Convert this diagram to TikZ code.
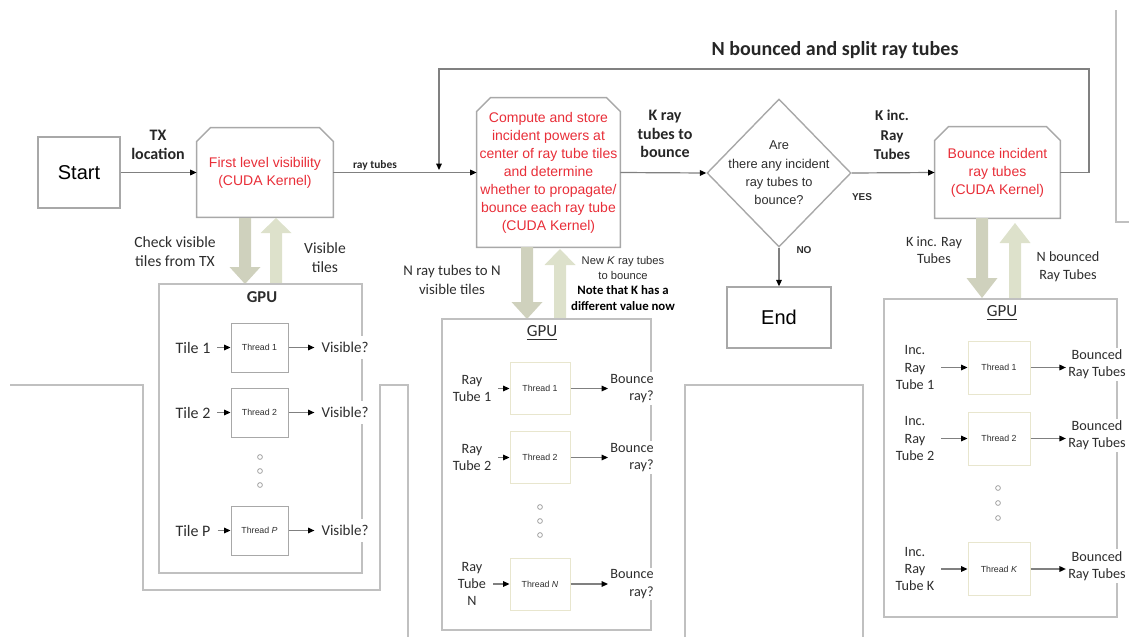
\documentclass[tikz,border=0pt]{standalone}
\usepackage{fontspec}
\setmainfont{Carlito}
\newfontfamily\arial{Liberation Sans}
\usetikzlibrary{arrows.meta,shapes.geometric}

\definecolor{cudared}{RGB}{232,46,56}
\definecolor{boxgray}{RGB}{168,168,168}
\definecolor{gpugray}{RGB}{192,192,192}
\definecolor{linegray}{RGB}{128,128,128}
\definecolor{fatdown}{RGB}{207,209,189}
\definecolor{fatup}{RGB}{221,225,203}
\definecolor{thrline}{RGB}{232,230,206}
\definecolor{txtgray}{RGB}{45,45,45}

% kernel box with cut top corners
\newcommand{\kernelbox}[1]{\draw[boxline] (#1.south west) -- ([yshift=-7pt]#1.north west) -- ([xshift=7pt]#1.north west) -- ([xshift=-7pt]#1.north east) -- ([yshift=-7pt]#1.north east) -- (#1.south east) -- cycle;}
% block arrow: x, start y, head base y, tip y, colour
\newcommand{\fatarrow}[5]{\fill[#5] ({#1-6},#2) -- ({#1-6},#3) -- ({#1-15.5},#3) -- (#1,#4) -- ({#1+15.5},#3) -- ({#1+6},#3) -- ({#1+6},#2) -- cycle;}

\begin{document}
\begin{tikzpicture}[x=0.5pt,y=-0.5pt,
    boxline/.style={draw=boxgray,line width=0.7pt},
    bgline/.style={draw=gpugray,line width=0.6pt},
    conn/.style={draw=linegray,line width=0.6pt,-{Triangle[length=3.2pt,width=2.8pt,color=black]}},
    kernel/.style={text=cudared,font=\arial\fontsize{7}{9}\selectfont,align=center,inner sep=0pt},
    lbl/.style={font=\fontsize{7.8}{9.5}\selectfont,align=center,text=txtgray},
    blbl/.style={font=\bfseries\fontsize{8}{9.4}\selectfont,align=center,text=black!85},
    plabel/.style={font=\fontsize{7.1}{8.7}\selectfont,align=center,text=txtgray},
    gpu/.style={draw=gpugray,line width=0.6pt,inner sep=0pt},
    thread/.style={font=\arial\fontsize{4.4}{5}\selectfont,inner sep=0pt,line width=0.5pt,text=txtgray},
    dotc/.style={draw=gray!80,line width=0.35pt}]
  \useasboundingbox (0,0) rectangle (1129,637);

  % page lines behind the figure
  \draw[bgline] (10,385) -- (143,385) -- (143,590) -- (380,590) -- (380,385) -- (408,385) -- (408,637);
  \draw[bgline] (685,637) -- (685,385) -- (863,385) -- (863,637);
  \draw[bgline] (1116,10) -- (1116,222) -- (1129,222);

  % main flow
  \node[boxline,minimum width=41pt,minimum height=35.5pt,font=\arial\fontsize{10}{12}\selectfont] (start) at (79,172.5) {Start};
  \node[kernel,minimum width=68pt,minimum height=44.5pt] (fv) at (265,172.5) {First level visibility\\(CUDA Kernel)};
  \kernelbox{fv}
  \node[kernel,minimum width=71.5pt,minimum height=74.5pt] (comp) at (548.5,172.5) {Compute and store\\incident powers at\\center of ray tube tiles\\and determine\\whether to propagate/\\bounce each ray tube\\(CUDA Kernel)};
  \kernelbox{comp}
  \node[diamond,boxline,minimum width=72pt,minimum height=74pt,inner sep=0pt,
    label={[font=\arial\fontsize{6.4}{9.2}\selectfont,align=center,text=txtgray]center:{Are\\there any incident\\ray tubes to\\bounce?}}] (dia) at (779,173) {};
  \node[boxline,minimum width=52pt,minimum height=30.5pt,font=\arial\fontsize{10}{12}\selectfont] (end) at (779,317.5) {End};
  \node[kernel,minimum width=62.5pt,minimum height=45.5pt] (bounce) at (997.5,172.5) {Bounce incident\\ray tubes\\(CUDA Kernel)};
  \kernelbox{bounce}

  \draw[conn] (start.east) -- (fv.west);
  \draw[conn] (fv.east) -- (comp.west);
  \draw[conn] (comp.east) -- (dia.west);
  \draw[conn] (dia.east) -- (bounce.west);
  \draw[conn] (dia.south) -- (end.north);
  \coordinate (loopR) at (1089,69);
  \coordinate (merge) at (439,170);
  \draw[conn] (bounce.east) -| (loopR) -| (merge);

  \node[blbl,font=\bfseries\fontsize{10}{12}\selectfont] (splitlbl) at (835,50) {N bounced and split ray tubes};
  \node[blbl] (txlbl) at (158,144.5) {TX\\location};
  \node[blbl,font=\bfseries\fontsize{5.7}{7}\selectfont] (rtlbl) at (375,165) {ray tubes};
  \node[blbl] (kraylbl) at (665,134) {K ray\\tubes to\\bounce};
  \node[blbl,font=\bfseries\fontsize{7.5}{9.8}\selectfont] (kinclbl) at (892,135) {K inc.\\Ray\\Tubes};
  \node[font=\arial\bfseries\fontsize{5}{6}\selectfont,text=txtgray] (yes) at (862,197) {YES};
  \node[font=\arial\bfseries\fontsize{5}{6}\selectfont,text=txtgray] (no) at (804,250) {NO};

  % block arrows to and from the GPUs
  \fatarrow{245}{218}{267}{284}{fatdown}
  \fatarrow{276}{284}{233}{218}{fatup}
  \fatarrow{527}{247}{302}{319}{fatdown}
  \fatarrow{560}{319}{265}{249}{fatup}
  \fatarrow{982}{218}{278}{298}{fatdown}
  \fatarrow{1015}{299}{243}{223}{fatup}

  \node[lbl] (chklbl) at (175,251.5) {Check visible\\tiles from TX};
  \node[lbl] (vtlbl) at (325,257.5) {Visible\\tiles};
  \node[lbl,font=\fontsize{7.4}{9.5}\selectfont] (nrlbl) at (452,279.5) {N ray tubes to N\\visible tiles};
  \node[font=\arial\fontsize{5.6}{7.5}\selectfont,text=txtgray,align=center] (newk) at (623,267.5) {New \textit{K} ray tubes\\to bounce};
  \node[font=\bfseries\fontsize{6.4}{8}\selectfont,align=center] (note) at (623,298) {Note that K has a\\different value now};
  \node[lbl,font=\fontsize{7.1}{8.7}\selectfont] (kinc2) at (934,250) {K inc. Ray\\Tubes};
  \node[lbl,font=\fontsize{7.1}{9}\selectfont] (nbr) at (1068,267) {N bounced\\Ray Tubes};

  % GPU 1: tiles
  \node[gpu,minimum width=101.5pt,minimum height=144.5pt] (gpua) at (260.5,428.5) {};
  \node[font=\bfseries\fontsize{8.3}{10}\selectfont,text=txtgray] (gpuat) at (262,297) {GPU};
  \foreach \i/\y/\t/\h in {1/347.5/1/1,2/412.5/2/2,3/530.5/P/\textit{P}}{
    \node[plabel,font=\fontsize{8}{9}\selectfont] (tile\i) at (193,\y) {Tile \t};
    \node[thread,draw=boxgray,minimum width=28.5pt,minimum height=24.5pt] (thra\i) at (259.5,\y) {Thread \h};
    \node[plabel,fill=white,font=\fontsize{7.5}{9}\selectfont] (vis\i) at (345,\y) {Visible?};
    \draw[conn] (tile\i) -- (thra\i);
    \draw[conn] (thra\i) -- (vis\i);
  }
  \foreach \y in {457,471,485}
    \draw[dotc] (260,\y) circle (2.4);

  % GPU 2: ray tubes
  \node[gpu,minimum width=104.5pt,minimum height=155.5pt] (gpub) at (546.5,474.5) {};
  \node[font=\fontsize{8.5}{10}\selectfont,text=txtgray] (gpubt) at (542,333) {\underline{GPU}};
  \foreach \i/\y/\t/\h in {1/388.5/{Ray\\Tube 1}/1,2/457.5/{Ray\\Tube 2}/2,3/584/{Ray\\Tube\\N}/\textit{N}}{
    \node[plabel] (tube\i) at (472,\y) {\t};
    \node[thread,draw=thrline,minimum width=30pt,minimum height=26pt] (thrb\i) at (540,\y) {Thread \h};
    \node[plabel,fill=white,align=right,inner sep=1pt] (bray\i) at (632,\y) {Bounce\\ray?};
    \draw[conn] (tube\i) -- (thrb\i);
    \draw[conn] (thrb\i) -- (bray\i);
  }
  \foreach \y in {507,521,535}
    \draw[dotc] (540,\y) circle (2.4);

  % GPU 3: incident ray tubes
  \node[gpu,minimum width=116.5pt,minimum height=159pt] (gpuc) at (1000.5,458) {};
  \node[font=\fontsize{8.5}{10}\selectfont,text=txtgray] (gpuct) at (1002,313) {\underline{GPU}};
  \foreach \i/\y/\t/\h in {1/367.5/1/1,2/438.5/2/2,3/569/K/\textit{K}}{
    \node[plabel] (inc\i) at (915,\y) {Inc.\\Ray\\Tube \t};
    \node[thread,draw=thrline,minimum width=31pt,minimum height=26.5pt] (thrc\i) at (999,\y) {Thread \h};
    \node[plabel,fill=white,inner sep=1pt] (bnc\i) at (1097,{\y-3}) {Bounced\\Ray Tubes};
    \draw[conn] (inc\i) -- (thrc\i);
    \draw[conn] (thrc\i.east) -- (thrc\i.east -| bnc\i.west);
  }
  \foreach \y in {488,503,518}
    \draw[dotc] (998,\y) circle (2.4);
\end{tikzpicture}
\end{document}
